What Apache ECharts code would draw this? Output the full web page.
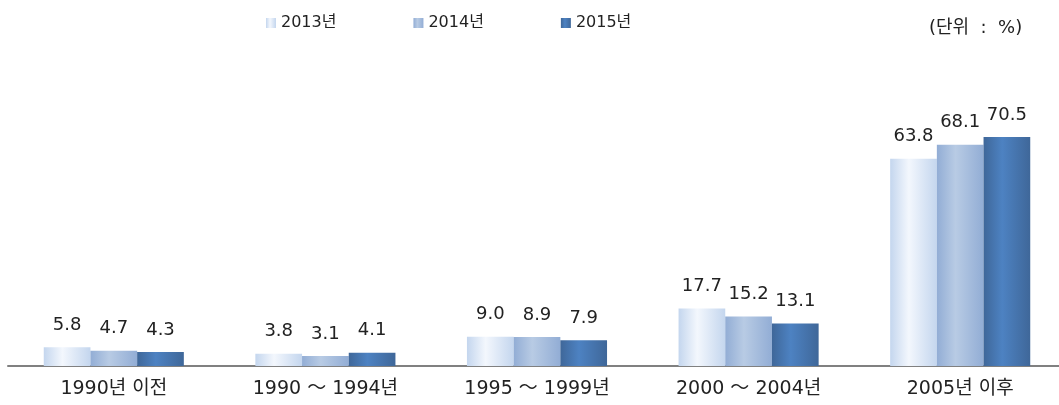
<!DOCTYPE html>
<html>
<head>
<meta charset="utf-8">
<script src="https://cdn.jsdelivr.net/npm/echarts@6/dist/echarts.min.js"></script>
<style>
  html, body { margin: 0; padding: 0; background: #fff; overflow: hidden; }
  /* 마지막 묶음이 오른쪽 끝에 걸리도록 화면보다 조금 넓게 */
  #chart { width: 1072px; height: 405px; }
</style>
</head>
<body>
<div id="chart"></div>
<script>
const categories = ['1990년 이전', '1990 ～ 1994년', '1995 ～ 1999년', '2000 ～ 2004년', '2005년 이후']
const years = ['2013년', '2014년', '2015년']
const values2013 = [5.8, 3.8, 9.0, 17.7, 63.8]
const values2014 = [4.7, 3.1, 8.9, 15.2, 68.1]
const values2015 = [4.3, 4.1, 7.9, 13.1, 70.5]

const font = '"DejaVu Sans", "Noto Sans CJK KR", sans-serif'

// 막대 가로 그라데이션 (가장자리 진하고 가운데 밝게)
const grad = (edge, mid) => new echarts.graphic.LinearGradient(0, 0, 1, 0, [
    { offset: 0, color: edge },
    { offset: 0.4, color: mid },
    { offset: 1, color: edge }
])
const styles = [
    grad('#c4d6ee', '#f3f7fd'),
    grad('#92add5', '#b8cbe4'),
    grad('#3f6799', '#4d82c2')
]

const makeSeries = (name, data, i) => ({
    name: name,
    type: 'bar',
    data: data,
    barGap: '0%',
    barCategoryGap: '33.8%',
    itemStyle: { color: styles[i] },
    label: {
        show: true,
        position: 'top',
        distance: 13,
        fontSize: 18,
        fontFamily: font,
        color: '#222',
        formatter: p => p.value.toFixed(1)
    }
})

const chart = echarts.init(document.getElementById('chart'))
chart.setOption({
    animation: false,
    textStyle: { fontFamily: font },
    legend: {
        data: years,
        top: 10,
        left: 261,
        itemWidth: 10,
        itemHeight: 10,
        itemGap: 77,
        itemStyle: { borderWidth: 0 },
        icon: 'rect',
        textStyle: { fontSize: 16, color: '#222', fontFamily: font }
    },
    graphic: [{
        type: 'text',
        left: 929,
        top: 19,
        style: { text: '(단위  :  %)', fill: '#222', font: '18px ' + font }
    }],
    grid: { left: 8, width: 1058, top: 106, bottom: 39 },
    xAxis: {
        type: 'category',
        data: categories,
        axisLine: { lineStyle: { color: '#808080', width: 2 } },
        axisTick: { show: false },
        axisLabel: { fontSize: 19, color: '#222', margin: 14, fontFamily: font }
    },
    yAxis: {
        type: 'value',
        min: 0,
        max: 80,
        show: false
    },
    series: [
        makeSeries(years[0], values2013, 0),
        makeSeries(years[1], values2014, 1),
        makeSeries(years[2], values2015, 2)
    ]
})
</script>
</body>
</html>
